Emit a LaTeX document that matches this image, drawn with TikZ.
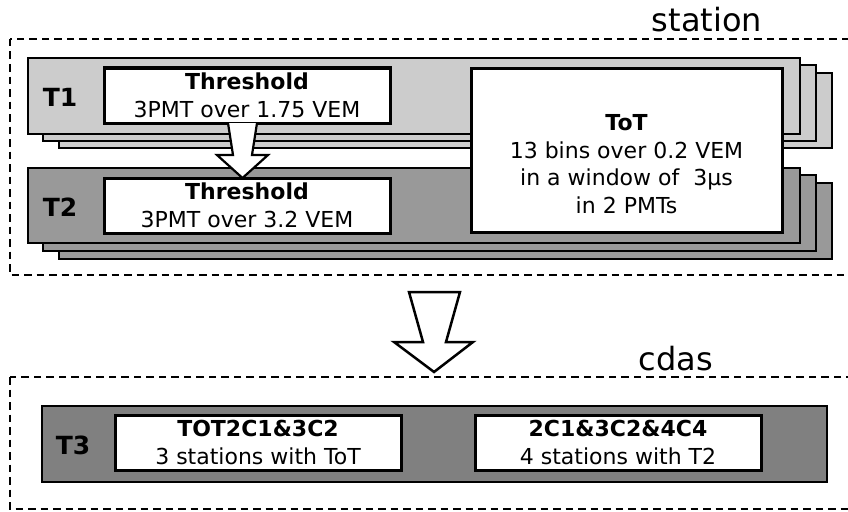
\documentclass[tikz,border=0pt]{standalone}
\usepackage{fontspec}
\setmainfont{DejaVu Sans}
\definecolor{lightg}{HTML}{CCCCCC}
\definecolor{midg}{HTML}{999999}
\definecolor{darkg}{HTML}{808080}
\begin{document}
\begin{tikzpicture}[x=1pt,y=-1pt,
  zone/.style={draw=black,line width=2pt,dash pattern=on 7.5pt off 5pt},
  layer/.style={draw=black,line width=1.4pt},
  wbox/.style={draw=black,fill=white,line width=3pt,inner sep=0pt,align=center,
     font=\fontsize{22}{28}\selectfont},
  lvl/.style={font=\fontsize{25}{30}\selectfont\bfseries},
  zlabel/.style={anchor=base,font=\fontsize{32}{36}\selectfont},
  bigarrow/.style={draw=black,fill=white,line width=2.5pt,line join=miter}]
\useasboundingbox (0,0) rectangle (848,511);
% station zone
\draw[zone] (10,39) rectangle (856,275);
\node[zlabel] (station) at (707,32) {station};
% T1 layers
\draw[layer,fill=lightg] (59,73) rectangle (832,148);
\draw[layer,fill=lightg] (43,65) rectangle (816,141);
\draw[layer,fill=lightg] (28,58) rectangle (800,134);
% T2 layers
\draw[layer,fill=midg] (59,183) rectangle (832,259);
\draw[layer,fill=midg] (43,175) rectangle (816,251);
\draw[layer,fill=midg] (28,168) rectangle (800,243);
\node[lvl] (t1) at (60,97) {T1};
\node[lvl] (t2) at (60,207) {T2};
% boxes
\node[wbox,minimum width=286pt,minimum height=55pt] (th1) at (247,95.5)
  {\textbf{Threshold}\\3PMT over 1.75 VEM};
\node[wbox,minimum width=286pt,minimum height=55pt] (th2) at (247,205.5)
  {\textbf{Threshold}\\3PMT over 3.2 VEM};
\node[wbox,minimum width=311pt,minimum height=164pt] (tot) at (626.5,150) {};
\node[align=center,font=\fontsize{22}{27.7}\selectfont] (tottext) at (626.5,164)
  {\textbf{ToT}\\13 bins over 0.2 VEM\\in a window of \ 3µs\\in 2 PMTs};
% small arrow
\draw[bigarrow,line width=2.2pt] (228,123) -- (233,155) -- (217,155) -- (242.5,178)
  -- (268,155) -- (252,155) -- (257,123);
% big arrow
\draw[bigarrow] (409,292) -- (423,342) -- (394,342) -- (434,372) -- (473,342)
  -- (446,342) -- (460,292) -- cycle;
% cdas zone
\draw[zone] (10,377) rectangle (856,509);
\node[zlabel] (cdas) at (676,370) {cdas};
\draw[layer,fill=darkg] (42,406) rectangle (827,482);
\node[lvl] (t3) at (73,445) {T3};
\node[wbox,minimum width=286pt,minimum height=55pt] (tot3) at (258,442.5)
  {\textbf{TOT2C1\&3C2}\\3 stations with ToT};
\node[wbox,minimum width=286pt,minimum height=55pt] (c2) at (618,442.5)
  {\textbf{2C1\&3C2\&4C4}\\4 stations with T2};
\end{tikzpicture}
\end{document}
